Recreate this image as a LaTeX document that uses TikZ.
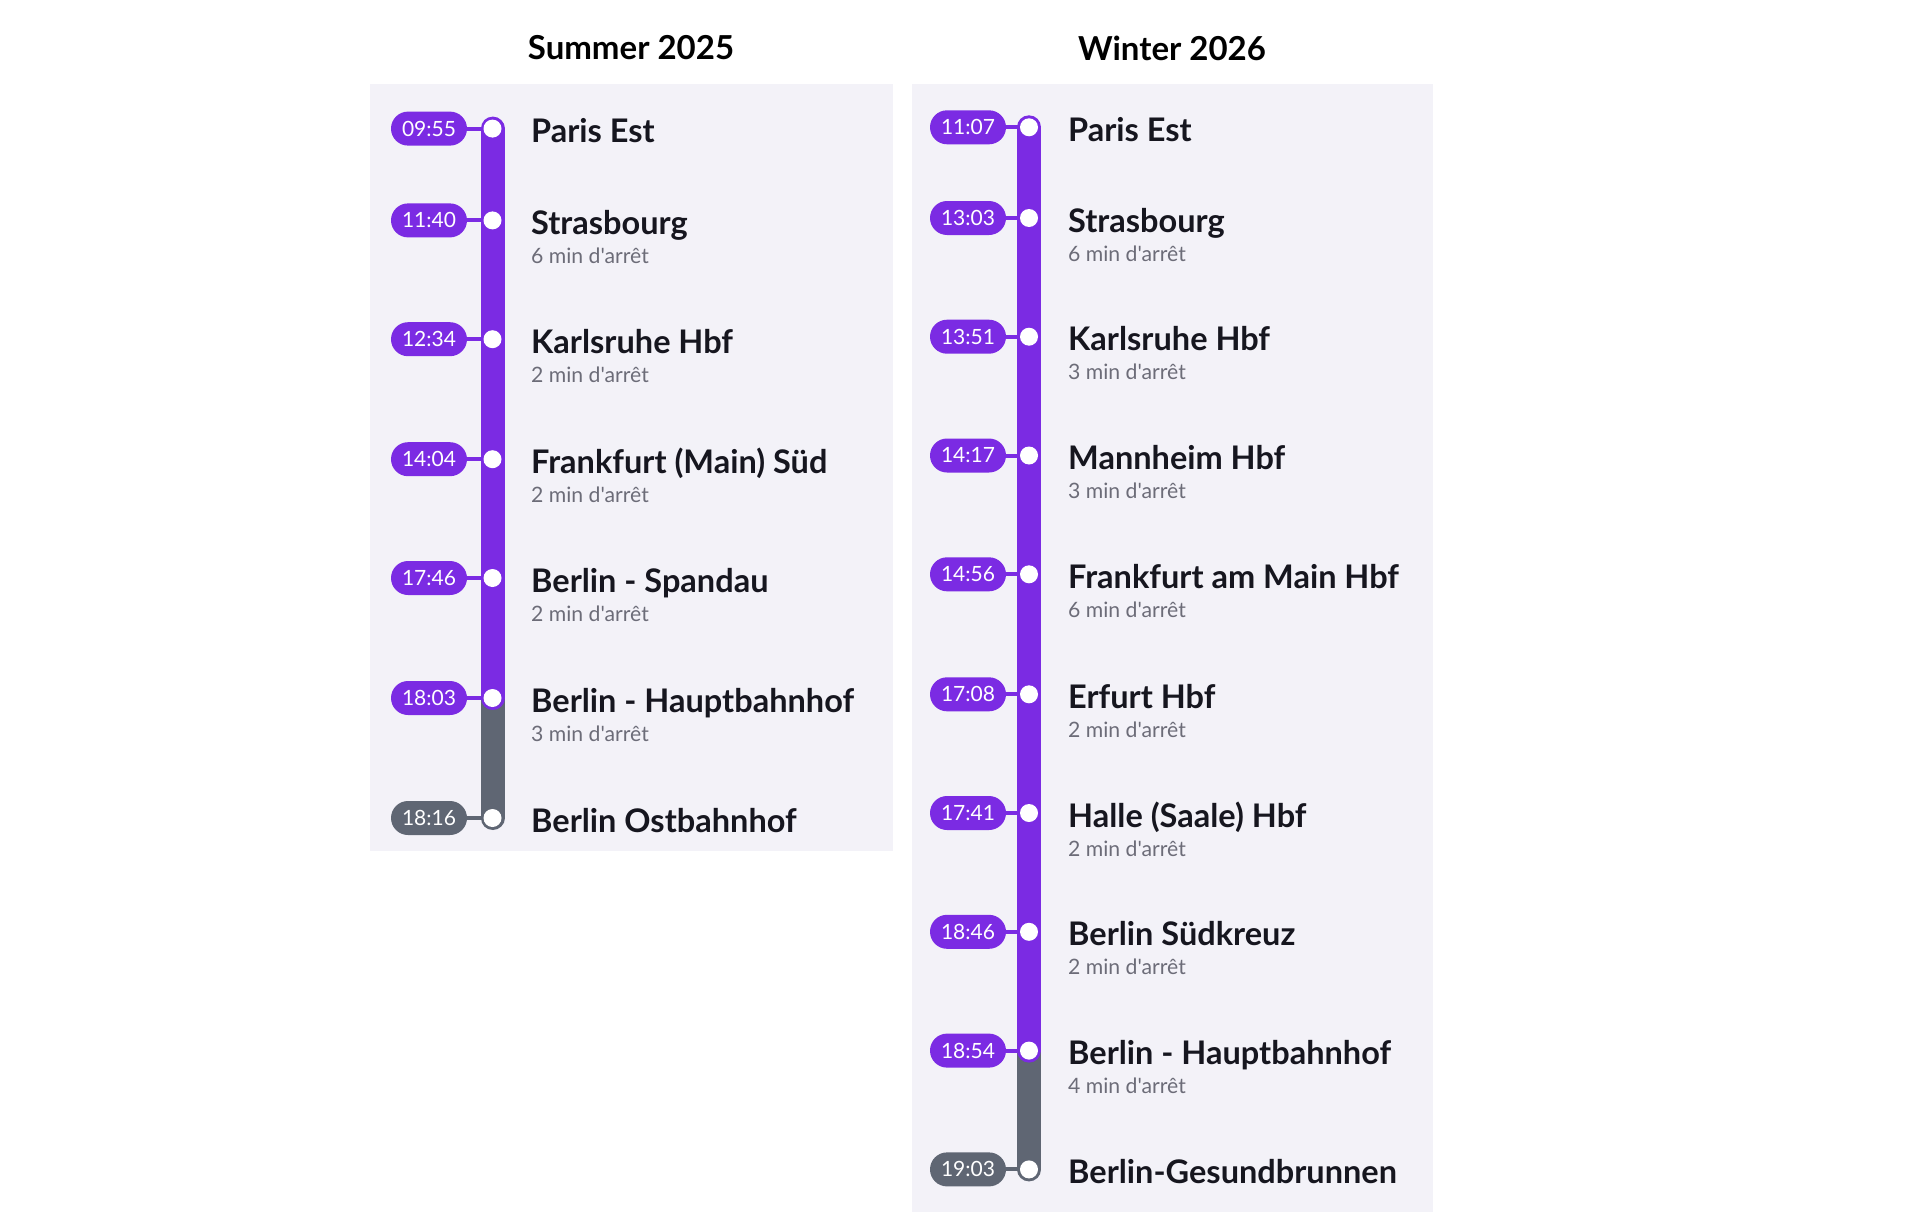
\documentclass[tikz,border=0pt]{standalone}
\usepackage{fontspec}
\setmainfont{Lato}[Ligatures=TeXOff]
\usetikzlibrary{shapes.misc}
\definecolor{tlpurple}{HTML}{7B2BE3}
\definecolor{tlgrey}{HTML}{5F6673}
\definecolor{panelbg}{HTML}{F3F2F8}
\definecolor{nametext}{HTML}{16161F}
\definecolor{subtext}{HTML}{6C6C78}
\pgfdeclarelayer{bg}\pgfdeclarelayer{mid}\pgfsetlayers{bg,mid,main}
\tikzset{
 panel/.style={fill=panelbg, draw=none},
 title/.style={font=\fontsize{33}{40}\selectfont\bfseries, text=black, anchor=center, inner sep=0},
 pill/.style={rounded rectangle, fill=#1, text=white, minimum width=76, minimum height=34, inner sep=0, font=\fontsize{21}{24}\selectfont},
 dot/.style={circle, fill=white, inner sep=0, minimum size=18},
 bar/.style={line width=24, line cap=round, draw=#1},
 tick/.style={line width=4, draw=#1},
 stname/.style={anchor=base west, font=\fontsize{32.5}{38}\selectfont\bfseries, text=nametext, inner sep=0},
 stsub/.style={anchor=base west, font=\fontsize{21.2}{25}\selectfont, text=subtext, inner sep=0},
}
\newcommand{\tlstation}[6]{%
  \node[dot] (#1d) at (\barx,#3) {};
  \node[pill=#2] (#1p) at (\pillx,#3) {#4};
  \node[stname] (#1n) at (\textx,#3+14) {#5};
  \ifx\relax#6\relax\else\node[stsub] (#1s) at (\textx,#3+43) {#6};\fi
}
\begin{document}
\begin{tikzpicture}[x=1pt,y=-1pt]
\useasboundingbox (0,0) rectangle (1920,1215);
\begin{pgfonlayer}{bg}
\fill[panel] (370,84.5) rectangle (893,851);
\fill[panel] (912,84.5) rectangle (1433,1212);
\end{pgfonlayer}
\node[title] (t1) at (631,48) {Summer 2025};
\node[title] (t2) at (1172,48) {Winter 2026};
% left panel
\def\barx{492.5}\def\pillx{429}\def\textx{531}
\tlstation{La}{tlpurple}{128.6}{09:55}{Paris Est}{}
\tlstation{Lb}{tlpurple}{220.4}{11:40}{Strasbourg}{6 min d'arrêt}
\tlstation{Lc}{tlpurple}{339.2}{12:34}{Karlsruhe Hbf}{2 min d'arrêt}
\tlstation{Ld}{tlpurple}{459.2}{14:04}{Frankfurt (Main) Süd}{2 min d'arrêt}
\tlstation{Le}{tlpurple}{578}{17:46}{Berlin - Spandau}{2 min d'arrêt}
\tlstation{Lf}{tlpurple}{698}{18:03}{Berlin - Hauptbahnhof}{3 min d'arrêt}
\tlstation{Lg}{tlgrey}{818}{18:16}{Berlin Ostbahnhof}{}
% right panel
\def\barx{1029}\def\pillx{968}\def\textx{1068}
\tlstation{Ra}{tlpurple}{127.3}{11:07}{Paris Est}{}
\tlstation{Rb}{tlpurple}{218}{13:03}{Strasbourg}{6 min d'arrêt}
\tlstation{Rc}{tlpurple}{336.7}{13:51}{Karlsruhe Hbf}{3 min d'arrêt}
\tlstation{Rd}{tlpurple}{455.5}{14:17}{Mannheim Hbf}{3 min d'arrêt}
\tlstation{Re}{tlpurple}{574.3}{14:56}{Frankfurt am Main Hbf}{6 min d'arrêt}
\tlstation{Rf}{tlpurple}{694.3}{17:08}{Erfurt Hbf}{2 min d'arrêt}
\tlstation{Rg}{tlpurple}{813}{17:41}{Halle (Saale) Hbf}{2 min d'arrêt}
\tlstation{Rh}{tlpurple}{931.8}{18:46}{Berlin Südkreuz}{2 min d'arrêt}
\tlstation{Ri}{tlpurple}{1050.6}{18:54}{Berlin - Hauptbahnhof}{4 min d'arrêt}
\tlstation{Rj}{tlgrey}{1169.4}{19:03}{Berlin-Gesundbrunnen}{}
\begin{pgfonlayer}{mid}
\draw[bar=tlgrey] (Lfd.center) -- (Lgd.center);
\draw[bar=tlpurple] (Lad.center) -- (Lfd.center);
\draw[bar=tlgrey] (Rid.center) -- (Rjd.center);
\draw[bar=tlpurple] (Rad.center) -- (Rid.center);
\foreach \k in {a,b,c,d,e,f}{\draw[tick=tlpurple] (L\k p.east) -- (L\k d.center);}
\draw[tick=tlgrey] (Lgp.east) -- (Lgd.center);
\foreach \k in {a,b,c,d,e,f,g,h,i}{\draw[tick=tlpurple] (R\k p.east) -- (R\k d.center);}
\draw[tick=tlgrey] (Rjp.east) -- (Rjd.center);
\end{pgfonlayer}
\end{tikzpicture}
\end{document}
